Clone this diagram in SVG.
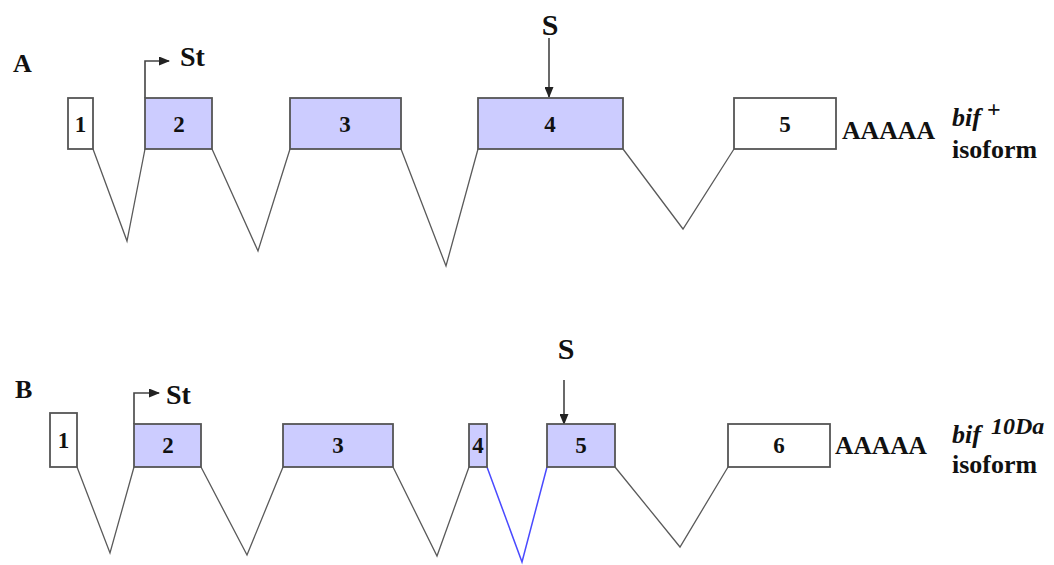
<svg xmlns="http://www.w3.org/2000/svg" width="1054" height="565" viewBox="0 0 1054 565">
<style>
.ex{stroke:#555555;stroke-width:1.8;}
.c{fill:#ccccff;}
.w{fill:#ffffff;}
.in{fill:none;stroke:#5a5a5a;stroke-width:1.3;}
.bl{fill:none;stroke:#4a4aff;stroke-width:1.5;}
.ar{fill:none;stroke:#444;stroke-width:1.6;}
text{font-family:"Liberation Serif","Times New Roman",serif;font-weight:bold;fill:#111;}
.n{font-size:23px;text-anchor:middle;}
.lab{font-size:26px;}
.st{font-size:28px;}
.s{font-size:30px;text-anchor:middle;}
.a{font-size:25px;}
.iso{font-size:26px;}
.it{font-style:italic;}
</style>
<defs>
<marker id="ah" markerWidth="11" markerHeight="9" refX="10" refY="4.5" orient="auto" markerUnits="userSpaceOnUse">
<path d="M0,0 L11,4.5 L0,9 Z" fill="#222"/>
</marker>
</defs>

<text class="lab" x="13" y="72">A</text>
<text class="lab" x="15" y="398">B</text>

<g id="connectors">
<polyline class="in" points="93,149 127,241 145,149"/>
<polyline class="in" points="212,149 258,251 290,149"/>
<polyline class="in" points="401,149 446,266 478,149"/>
<polyline class="in" points="623,149 683,229 734,149"/>
<polyline class="in" points="77,467 110,553 134,467"/>
<polyline class="in" points="201,467 247,555 283,467"/>
<polyline class="in" points="393,467 437,556 469,467"/>
<polyline class="bl" points="487,467 522,562 547,467"/>
<polyline class="in" points="615,467 680,547 728,467"/>
<polyline class="ar" points="145,98 145,61 169,61" marker-end="url(#ah)"/>
<line class="ar" x1="549" y1="38" x2="549" y2="97" marker-end="url(#ah)"/>
<polyline class="ar" points="134,424 134,393 159,393" marker-end="url(#ah)"/>
<line class="ar" x1="564" y1="380" x2="564" y2="424" marker-end="url(#ah)"/>
</g>

<g id="A-exon1"><rect class="ex w" x="68" y="98" width="25" height="51"/><text class="n" x="80.5" y="132">1</text></g>
<g id="A-exon2"><rect class="ex c" x="145" y="98" width="67" height="51"/><text class="n" x="179" y="132">2</text></g>
<g id="A-exon3"><rect class="ex c" x="290" y="98" width="111" height="51"/><text class="n" x="345" y="132">3</text></g>
<g id="A-exon4"><rect class="ex c" x="478" y="98" width="145" height="51"/><text class="n" x="550" y="132">4</text></g>
<g id="A-exon5"><rect class="ex w" x="734" y="98" width="102" height="51"/><text class="n" x="785" y="132">5</text></g>
<g id="A-labels">
<text class="st" x="180" y="66">St</text>
<text class="s" x="550" y="35">S</text>
<text class="a" x="842" y="139" textLength="93" lengthAdjust="spacingAndGlyphs">AAAAA</text>
<text class="iso it" x="952" y="126">bif</text>
<text x="987" y="117" style="font-size:24px">+</text>
<text class="iso" x="952" y="158" textLength="85" lengthAdjust="spacingAndGlyphs">isoform</text>
</g>

<g id="B-exon1"><rect class="ex w" x="50" y="413" width="27" height="54"/><text class="n" x="63.5" y="448">1</text></g>
<g id="B-exon2"><rect class="ex c" x="134" y="424" width="67" height="43"/><text class="n" x="168" y="453">2</text></g>
<g id="B-exon3"><rect class="ex c" x="283" y="424" width="110" height="43"/><text class="n" x="338" y="453">3</text></g>
<g id="B-exon4"><rect class="ex c" x="469" y="424" width="18" height="43"/><text class="n" x="478" y="453">4</text></g>
<g id="B-exon5"><rect class="ex c" x="547" y="424" width="68" height="43"/><text class="n" x="581" y="453">5</text></g>
<g id="B-exon6"><rect class="ex w" x="728" y="424" width="102" height="43"/><text class="n" x="779" y="453">6</text></g>
<g id="B-labels">
<text class="st" x="166" y="404">St</text>
<text class="s" x="566" y="359">S</text>
<text class="a" x="835" y="454" textLength="92" lengthAdjust="spacingAndGlyphs">AAAAA</text>
<text class="iso it" x="952" y="443">bif</text>
<text class="it" x="991" y="434" style="font-size:24px">10Da</text>
<text class="iso" x="952" y="473" textLength="85" lengthAdjust="spacingAndGlyphs">isoform</text>
</g>
</svg>
